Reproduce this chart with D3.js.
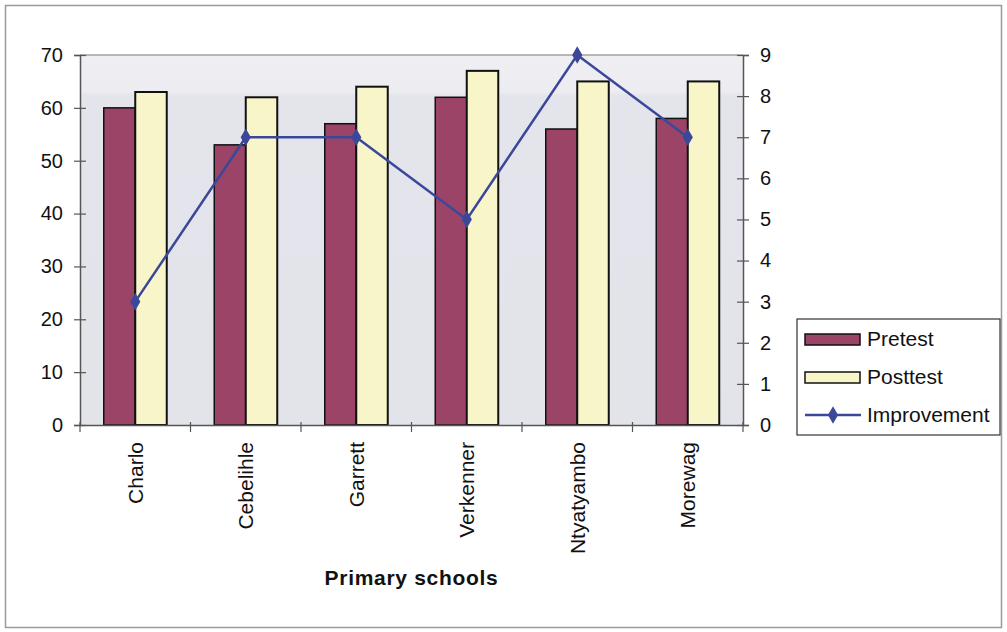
<!DOCTYPE html>
<html><head><meta charset="utf-8">
<script src="https://cdn.jsdelivr.net/npm/d3@7"></script>
<style>body{margin:0;background:#fff}svg{display:block;font-family:"Liberation Sans",Arial,sans-serif}</style>
</head><body><svg id="c" width="1007" height="632"></svg>
<script>
const categories = ["Charlo","Cebelihle","Garrett","Verkenner","Ntyatyambo","Morewag"];
const pretest = [60,53,57,62,56,58];
const posttest = [63,62,64,67,65,65];
const improvement = [3,7,7,5,9,7];
const leftTicks = [0,10,20,30,40,50,60,70];
const rightTicks = [0,1,2,3,4,5,6,7,8,9];
const seriesNames = ["Pretest","Posttest","Improvement"];

const svg = d3.select("#c");
const m = {l:80, r:743, t:55, b:425};
svg.append("rect").attr("x",5.5).attr("y",5.5).attr("width",996).attr("height",622)
  .attr("fill","#fff").attr("stroke","#9a9a9a").attr("stroke-width",1.5);

const x = d3.scaleBand().domain(categories).range([m.l,m.r]);
const yL = d3.scaleLinear().domain([0,70]).range([m.b,m.t]);
const yR = d3.scaleLinear().domain([0,9]).range([m.b,m.t]);
const bw = x.bandwidth()*63/110.5/2;

// plot background
const defs = svg.append("defs");
const g = defs.append("linearGradient").attr("id","bg").attr("x1",0).attr("y1",0).attr("x2",0).attr("y2",1);
g.append("stop").attr("offset","0").attr("stop-color","#efeff3");
g.append("stop").attr("offset","0.1").attr("stop-color","#ececf1");
g.append("stop").attr("offset","0.11").attr("stop-color","#e4e5ec");
g.append("stop").attr("offset","1").attr("stop-color","#e3e4ea");
svg.append("rect").attr("x",m.l).attr("y",m.t).attr("width",m.r-m.l).attr("height",m.b-m.t).attr("fill","url(#bg)");
svg.append("line").attr("x1",m.l).attr("x2",m.r).attr("y1",m.t).attr("y2",m.t).attr("stroke","#a0a0a0").attr("stroke-width",1.5);

const cols = {pre:"#9b4468", post:"#f8f6c9", line:"#3b4899"};
const gb = svg.append("g");
gb.selectAll(".pre").data(categories).join("rect")
  .attr("x",d=>x(d)+x.bandwidth()/2-bw).attr("width",bw)
  .attr("y",(d,i)=>yL(pretest[i])).attr("height",(d,i)=>yL(0)-yL(pretest[i]))
  .attr("fill",cols.pre).attr("stroke","#111").attr("stroke-width",1.5);
gb.selectAll(".post").data(categories).join("rect")
  .attr("x",d=>x(d)+x.bandwidth()/2).attr("width",bw)
  .attr("y",(d,i)=>yL(posttest[i])).attr("height",(d,i)=>yL(0)-yL(posttest[i]))
  .attr("fill",cols.post).attr("stroke","#111").attr("stroke-width",2);

// axes
const la = svg.append("g").attr("transform",`translate(${m.l},0)`)
  .call(d3.axisLeft(yL).tickValues(leftTicks).tickSize(6).tickPadding(11));
la.selectAll(".tick line").attr("x1",6).attr("x2",-6);
const ra = svg.append("g").attr("transform",`translate(${m.r},0)`)
  .call(d3.axisRight(yR).tickValues(rightTicks).tickSize(6).tickPadding(11));
ra.selectAll(".tick line").attr("x1",-6).attr("x2",6);
const xa = svg.append("g").attr("transform",`translate(0,${m.b})`)
  .call(d3.axisBottom(x).tickSize(0).tickPadding(0));
[la,ra,xa].forEach(a=>{
  a.select(".domain").attr("stroke","#555").attr("stroke-width",1.5);
  a.selectAll(".tick line").attr("stroke","#555").attr("stroke-width",1.2);
  a.selectAll("text").attr("font-size",20).attr("font-family","Liberation Sans, Arial, sans-serif").attr("fill","#111");
});
xa.selectAll(".tick text").attr("font-size",21).attr("transform","rotate(-90)").attr("text-anchor","end")
  .attr("x",-17).attr("y",0).attr("dy","0.35em");
// category boundary ticks
const bounds = categories.map(c=>x(c)).concat([m.r]);
svg.append("g").selectAll("line").data(bounds).join("line")
  .attr("x1",d=>d).attr("x2",d=>d).attr("y1",m.b-3).attr("y2",m.b+7)
  .attr("stroke","#555").attr("stroke-width",1.2);

// improvement line
const cx = d=>x(d)+x.bandwidth()/2;
svg.append("path").datum(categories)
  .attr("d",d3.line().x(cx).y((d,i)=>yR(improvement[i])))
  .attr("fill","none").attr("stroke",cols.line).attr("stroke-width",2.5);
svg.append("g").selectAll("path").data(categories).join("path")
  .attr("d",d3.symbol(d3.symbolDiamond,90))
  .attr("transform",(d,i)=>`translate(${cx(d)},${yR(improvement[i])})`)
  .attr("fill",cols.line);

// x title
svg.append("text").attr("x",(m.l+m.r)/2).attr("y",585).attr("text-anchor","middle")
  .attr("font-size",21).attr("font-weight","bold").attr("letter-spacing","0.7px").attr("fill","#111").text("Primary schools");

// legend
const lg = svg.append("g");
lg.append("rect").attr("x",797).attr("y",319).attr("width",203).attr("height",116)
  .attr("fill","#fff").attr("stroke","#333").attr("stroke-width",1.2);
const ly = [339,377,415];
lg.append("rect").attr("x",805).attr("y",ly[0]-5).attr("width",55).attr("height",11)
  .attr("fill",cols.pre).attr("stroke","#111").attr("stroke-width",1.5);
lg.append("rect").attr("x",805).attr("y",ly[1]-5).attr("width",55).attr("height",11)
  .attr("fill",cols.post).attr("stroke","#111").attr("stroke-width",1.5);
lg.append("line").attr("x1",805).attr("x2",861).attr("y1",ly[2]).attr("y2",ly[2]).attr("stroke",cols.line).attr("stroke-width",2.5);
lg.append("path").attr("d",d3.symbol(d3.symbolDiamond,90)).attr("transform",`translate(833,${ly[2]})`).attr("fill",cols.line);
lg.selectAll("text").data(seriesNames).join("text")
  .attr("x",867).attr("y",(d,i)=>ly[i]).attr("dy","0.35em")
  .attr("font-size",21).attr("fill","#111").text(d=>d);
</script></body></html>
